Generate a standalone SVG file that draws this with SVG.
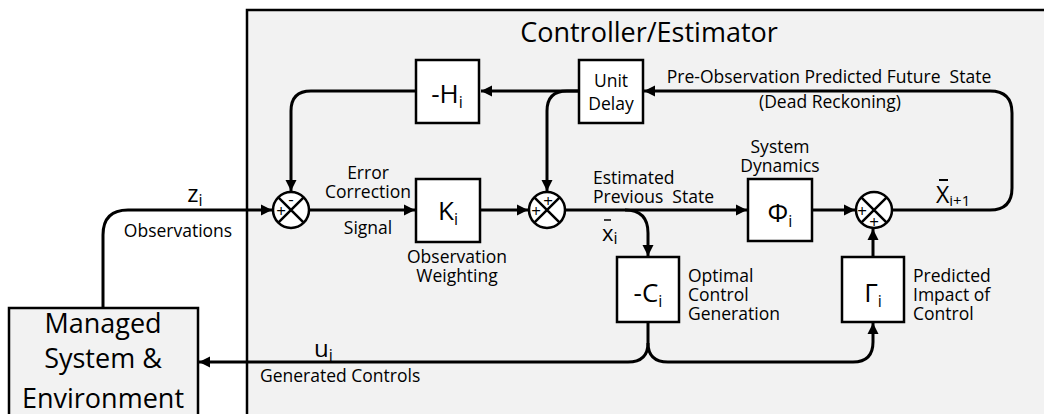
<svg xmlns="http://www.w3.org/2000/svg" width="1044" height="414" viewBox="0 0 1044 414">
<style>
text{font-family:"Open Sans","Liberation Sans",sans-serif;fill:#000}
.frame{fill:#f2f2f2;stroke:#000;stroke-width:2.5}
.box{fill:#fff;stroke:#000;stroke-width:2.5}
.sum{fill:#fff;stroke:#000;stroke-width:2.5}
.x{stroke:#000;stroke-width:2.5}
.ln{fill:none;stroke:#000;stroke-width:3}
.lbl{font-size:17.5px}
.big{font-size:26px}
.sub{font-size:16px}
.sg{font-size:17px}
</style>
<defs>
<marker id="ah" markerUnits="userSpaceOnUse" markerWidth="12" markerHeight="12" viewBox="0 0 12 12" refX="11" refY="6" orient="auto">
<path d="M0,0.5 L11,6 L0,11.5 z" fill="#000"/>
</marker>
</defs>
<g id="controller">
<rect class="frame" x="247" y="10" width="830" height="430"/>
<text x="649" y="42" text-anchor="middle" font-size="27">Controller/Estimator</text>
</g>
<g id="managed">
<rect class="frame" x="9" y="308" width="189" height="130"/>
<text x="103" y="333" text-anchor="middle" font-size="27">Managed</text>
<text x="103" y="368" text-anchor="middle" font-size="27">System &amp;</text>
<text x="103" y="408" text-anchor="middle" font-size="27">Environment</text>
</g>
<g id="connectors">
<path class="ln" d="M579,91 H481" marker-end="url(#ah)"/>
<path class="ln" d="M579,91 H567 Q547,91 547,111 V191" marker-end="url(#ah)"/>
<path class="ln" d="M416,91 H311 Q291,91 291,111 V191" marker-end="url(#ah)"/>
<path class="ln" d="M103,308 V235 Q103,210 128,210 H272" marker-end="url(#ah)"/>
<path class="ln" d="M309,210 H415" marker-end="url(#ah)"/>
<path class="ln" d="M480,210 H528" marker-end="url(#ah)"/>
<path class="ln" d="M565,210 H747" marker-end="url(#ah)"/>
<path class="ln" d="M625,210 Q648,210 648,233 V256" marker-end="url(#ah)"/>
<path class="ln" d="M812,210 H855" marker-end="url(#ah)"/>
<path class="ln" d="M892,210 H990 Q1012,210 1012,188 V113 Q1012,91 990,91 H644" marker-end="url(#ah)"/>
<path class="ln" d="M648,322 V343 Q648,362 628,362 H199" marker-end="url(#ah)"/>
<path class="ln" d="M648,343 Q648,362 668,362 H853 Q873,362 873,342 V323" marker-end="url(#ah)"/>
<path class="ln" d="M873,257 V229" marker-end="url(#ah)"/>
</g>
<g id="H">
<rect class="box" x="416" y="60" width="63" height="63"/>
<text x="447" y="103" text-anchor="middle" class="big">-H<tspan class="sub" dy="5">i</tspan></text>
</g>
<g id="unitdelay">
<rect class="box" x="579" y="60" width="64" height="63"/>
<text x="611" y="87" text-anchor="middle" class="lbl">Unit</text>
<text x="611" y="110" text-anchor="middle" class="lbl">Delay</text>
</g>
<g id="sum1">
<circle class="sum" cx="291" cy="210" r="18"/>
<path class="x" d="M278.3,197.3 L303.7,222.7 M303.7,197.3 L278.3,222.7"/>
<text x="291" y="205" text-anchor="middle" class="sg">-</text>
<text x="281" y="217" text-anchor="middle" class="sg">+</text>
</g>
<g id="K">
<rect class="box" x="416" y="179" width="64" height="63"/>
<text x="448" y="220" text-anchor="middle" class="big">K<tspan class="sub" dy="5">i</tspan></text>
</g>
<g id="sum2">
<circle class="sum" cx="547" cy="210" r="18"/>
<path class="x" d="M534.3,197.3 L559.7,222.7 M559.7,197.3 L534.3,222.7"/>
<text x="548" y="207" text-anchor="middle" class="sg">+</text>
<text x="536" y="217" text-anchor="middle" class="sg">+</text>
</g>
<g id="Phi">
<rect class="box" x="748" y="179" width="64" height="62"/>
<text x="780" y="222" text-anchor="middle" class="big">Φ<tspan class="sub" dy="5">i</tspan></text>
</g>
<g id="sum3">
<circle class="sum" cx="874" cy="210" r="18"/>
<path class="x" d="M861.3,197.3 L886.7,222.7 M886.7,197.3 L861.3,222.7"/>
<text x="862" y="217" text-anchor="middle" class="sg">+</text>
<text x="874" y="228" text-anchor="middle" class="sg">+</text>
</g>
<g id="C">
<rect class="box" x="617" y="257" width="62" height="65"/>
<text x="648" y="302" text-anchor="middle" class="big">-C<tspan class="sub" dy="5">i</tspan></text>
</g>
<g id="Gamma">
<rect class="box" x="842" y="257" width="62" height="65"/>
<text x="873" y="302" text-anchor="middle" class="big">Γ<tspan class="sub" dy="5">i</tspan></text>
</g>
<g id="labels">
<text x="195" y="202" text-anchor="middle" font-size="24">z<tspan class="sub" dy="4">i</tspan></text>
<text x="178" y="237" text-anchor="middle" class="lbl">Observations</text>
<text x="368" y="179" text-anchor="middle" class="lbl">Error</text>
<text x="368" y="198" text-anchor="middle" class="lbl">Correction</text>
<text x="368" y="234" text-anchor="middle" class="lbl">Signal</text>
<text x="457" y="263" text-anchor="middle" class="lbl">Observation</text>
<text x="457" y="282" text-anchor="middle" class="lbl">Weighting</text>
<text x="593" y="184" class="lbl">Estimated</text>
<text x="593" y="203" class="lbl" xml:space="preserve">Previous  State</text>
<text x="602" y="241" font-size="22">x<tspan class="sub" dy="3">i</tspan></text>
<line x1="604" y1="220" x2="611" y2="220" stroke="#000" stroke-width="1.5"/>
<text x="780" y="153" text-anchor="middle" class="lbl">System</text>
<text x="780" y="172" text-anchor="middle" class="lbl">Dynamics</text>
<text x="936" y="203" font-size="23">X<tspan font-size="15" dy="3">i+1</tspan></text>
<line x1="939" y1="180" x2="948" y2="180" stroke="#000" stroke-width="2"/>
<text x="829" y="83" text-anchor="middle" class="lbl" xml:space="preserve">Pre-Observation Predicted Future  State</text>
<text x="830" y="108" text-anchor="middle" class="lbl">(Dead Reckoning)</text>
<text x="688" y="282" class="lbl">Optimal</text>
<text x="688" y="301" class="lbl">Control</text>
<text x="688" y="320" class="lbl">Generation</text>
<text x="913" y="282" class="lbl">Predicted</text>
<text x="913" y="301" class="lbl">Impact of</text>
<text x="913" y="320" class="lbl">Control</text>
<text x="314" y="357" font-size="24">u<tspan class="sub" dy="4">i</tspan></text>
<text x="260" y="382" class="lbl">Generated Controls</text>
</g>
</svg>
